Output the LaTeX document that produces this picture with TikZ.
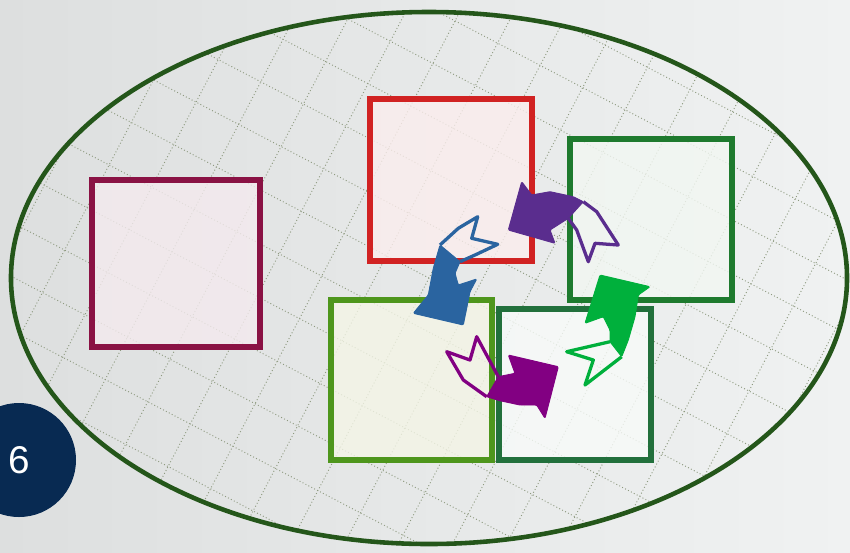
\documentclass[tikz,border=0pt]{standalone}
\usepackage{fontspec}
\setsansfont{Liberation Sans}
\usepackage{xcolor}
\usepackage{tikz}
\usetikzlibrary{shapes.geometric}
\usetikzlibrary{shapes}

\definecolor{bgleft}{HTML}{DDDFDF}
\definecolor{bgright}{HTML}{F0F2F2}
\definecolor{rim}{HTML}{24561A}
\definecolor{gridc}{HTML}{8E9A80}
\definecolor{badge}{HTML}{082A52}
\definecolor{maroonc}{HTML}{8A1244}
\definecolor{redc}{HTML}{D12222}
\definecolor{leafc}{HTML}{1E7A2E}
\definecolor{limec}{HTML}{4E961C}
\definecolor{pinec}{HTML}{22703C}
\definecolor{limefill}{HTML}{F4F5E6}
\definecolor{bluearr}{HTML}{2A64A0}
\definecolor{violetarr}{HTML}{5A2D8E}
\definecolor{plumarr}{HTML}{820082}
\definecolor{greenarr}{HTML}{00B03C}

\tikzset{
    cell/.style = {draw, line width=4.8pt, inner sep=0pt, fill opacity=0.8},
    tailline/.style = {line width=2.8pt, line join=round},
    headfill/.style = {line width=0.8pt, line join=round, rounded corners=1pt},
}

\begin{document}
\begin{tikzpicture}[x=0.03cm, y=-0.03cm]
        \clip (0, 0) rectangle (850, 552);
        \shade[left color=bgleft, right color=bgright] (0, 0) rectangle (850, 552);

        % dotted grid inside the frame
        \begin{scope}
            \clip (429, 278) ellipse [x radius=12.54cm, y radius=7.98cm];
            \foreach \k in {-14,...,14} {
                \draw[gridc, dotted, line width=0.8pt]
                    ({429 - 0.463*48*\k - 0.886*900}, {278 + 0.886*48*\k - 0.463*900})
                    -- ({429 - 0.463*48*\k + 0.886*900}, {278 + 0.886*48*\k + 0.463*900});
                \draw[gridc, dotted, line width=0.8pt]
                    ({429 + 0.886*48*\k - 0.463*900}, {278 + 0.463*48*\k + 0.886*900})
                    -- ({429 + 0.886*48*\k + 0.463*900}, {278 + 0.463*48*\k - 0.886*900});
            }
        \end{scope}

        \node[cell, draw=maroonc, fill=maroonc!9, minimum width=5.04cm, minimum height=5.01cm]
            (mbox) at (176, 263.5) {};
        \node[cell, draw=redc, fill=redc!8, minimum width=4.86cm, minimum height=4.86cm]
            (rbox) at (451, 180) {};
        \node[cell, draw=leafc, fill=leafc!6, minimum width=4.86cm, minimum height=4.83cm]
            (gbox) at (651, 219.5) {};
        \node[cell, draw=limec, fill=limefill, minimum width=4.83cm, minimum height=4.8cm]
            (lbox) at (411.5, 380) {};
        \node[cell, draw=pinec, fill=pinec!3, minimum width=4.56cm, minimum height=4.53cm]
            (pbox) at (575, 384.5) {};

        \node[ellipse, draw=rim, line width=3.9pt, inner sep=0pt,
            minimum width=25.08cm, minimum height=15.96cm] (frame) at (429, 278) {};

        % blue arrow
        \draw[tailline, bluearr] (440, 245) -- (458.3, 228.3) -- (477.7, 216.7) -- (471.7, 238.3)
            -- (497.7, 244.3) -- (475, 255) -- (460, 261.7);
        \filldraw[headfill, draw=bluearr, fill=bluearr] (440, 245) -- (433.3, 268.3) -- (428.3, 295)
            -- (413.3, 313.3) -- (463.3, 325) -- (470, 291.7) -- (476.7, 279) -- (458.3, 285)
            -- (455, 273.3) -- (460, 261.7) -- cycle;

        % violet arrow
        \draw[tailline, violetarr] (583.3, 201.7) -- (596.7, 211.7) -- (618.3, 245) -- (595, 243.3)
            -- (588.3, 261.7) -- (576.7, 230) -- (568.3, 218.3);
        \filldraw[headfill, draw=violetarr, fill=violetarr] (521.7, 181.7) -- (508.3, 230)
            -- (555, 243.3) -- (550, 230) -- (568.3, 218.3) -- (583.3, 201.7) -- (573.3, 196.7)
            -- (550, 191.7) -- (531.7, 195) -- cycle;

        % plum arrow
        \draw[tailline, plumarr] (498.3, 376.7) -- (476.7, 336.7) -- (470, 360) -- (446.7, 351.7)
            -- (463.3, 380) -- (486.7, 396.7);
        \filldraw[headfill, draw=plumarr, fill=plumarr] (498.3, 376.7) -- (515, 373.3) -- (508.3, 355)
            -- (558.3, 366.7) -- (545, 418.3) -- (536.7, 405) -- (520, 405) -- (500, 400.7)
            -- (486.7, 396.7) -- cycle;

        % green arrow
        \draw[tailline, greenarr] (610, 341.7) -- (566.7, 351.7) -- (593.3, 360) -- (585, 385)
            -- (621.7, 356.7);
        \filldraw[headfill, draw=greenarr, fill=greenarr] (600, 275) -- (650, 286.7) -- (638.3, 295)
            -- (635, 316.7) -- (628.3, 340) -- (621.7, 356.7) -- (610, 341.7) -- (610, 330)
            -- (603.3, 316.7) -- (585, 323.3) -- cycle;

        \node[circle, fill=badge, minimum size=3.42cm, inner sep=0pt] (num) at (19, 460)
            {\color{white}\fontsize{33}{38}\selectfont\sffamily 6};
    \end{tikzpicture}
\end{document}
